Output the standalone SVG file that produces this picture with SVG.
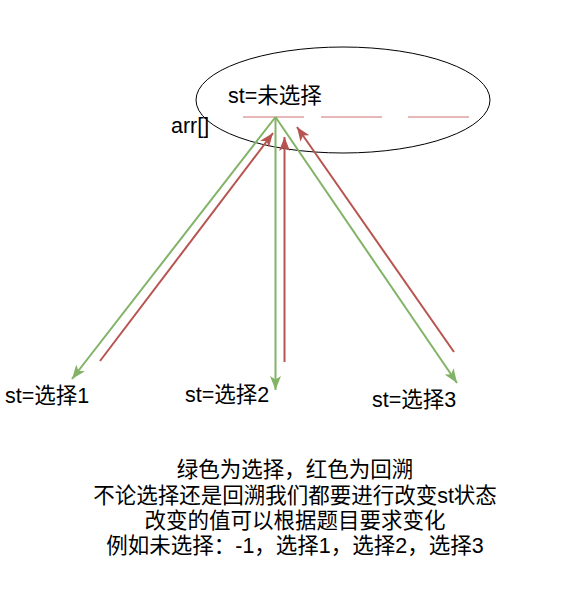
<svg xmlns="http://www.w3.org/2000/svg" width="565" height="603" viewBox="0 0 565 603">
<style>
text{font-family:"Liberation Sans","Noto Sans CJK SC",sans-serif;font-size:21.5px;fill:#000}
.g{stroke:#82b366;stroke-width:2;fill:none}
.r{stroke:#b85450;stroke-width:2;fill:none}
.d{stroke:#e0a0a0;stroke-width:1.5;fill:none}
</style>
<defs>
<marker id="ag" viewBox="0 0 14 11" refX="14" refY="5.5" markerWidth="14" markerHeight="11" markerUnits="userSpaceOnUse" orient="auto"><path d="M0,0 L14,5.5 L0,11 L3.5,5.5 Z" fill="#82b366"/></marker>
<marker id="ar" viewBox="0 0 14 11" refX="14" refY="5.5" markerWidth="14" markerHeight="11" markerUnits="userSpaceOnUse" orient="auto"><path d="M0,0 L14,5.5 L0,11 L3.5,5.5 Z" fill="#b85450"/></marker>
</defs>
<rect width="565" height="603" fill="#fff"/>
<g id="state">
<ellipse cx="343" cy="100" rx="147" ry="53" fill="none" stroke="#000" stroke-width="1"/>
<text x="228" y="103">st=未选择</text>
</g>
<g id="arr">
<text x="171" y="133">arr[]</text>
<line class="d" x1="243" y1="117" x2="304" y2="117"/>
<line class="d" x1="321" y1="117" x2="382" y2="117"/>
<line class="d" x1="408" y1="117" x2="469" y2="117"/>
</g>
<g id="choice1"><text x="5" y="403">st=选择1</text></g>
<g id="choice2"><text x="185" y="402">st=选择2</text></g>
<g id="choice3"><text x="372" y="407">st=选择3</text></g>
<g id="note">
<text x="295" y="477" text-anchor="middle">绿色为选择，红色为回溯</text>
<text x="295" y="503" text-anchor="middle">不论选择还是回溯我们都要进行改变st状态</text>
<text x="295" y="528" text-anchor="middle">改变的值可以根据题目要求变化</text>
<text x="295" y="553" text-anchor="middle">例如未选择：-1，选择1，选择2，选择3</text>
</g>
<g id="connectors">
<line class="g" x1="275.5" y1="117" x2="72" y2="379" marker-end="url(#ag)"/>
<line class="g" x1="275.5" y1="117" x2="275.5" y2="390" marker-end="url(#ag)"/>
<line class="g" x1="275.5" y1="117" x2="457" y2="383" marker-end="url(#ag)"/>
<line class="r" x1="100" y1="361" x2="273" y2="133" marker-end="url(#ar)"/>
<line class="r" x1="284.5" y1="362" x2="284.5" y2="137" marker-end="url(#ar)"/>
<line class="r" x1="454" y1="352" x2="297" y2="127" marker-end="url(#ar)"/>
</g>
</svg>
